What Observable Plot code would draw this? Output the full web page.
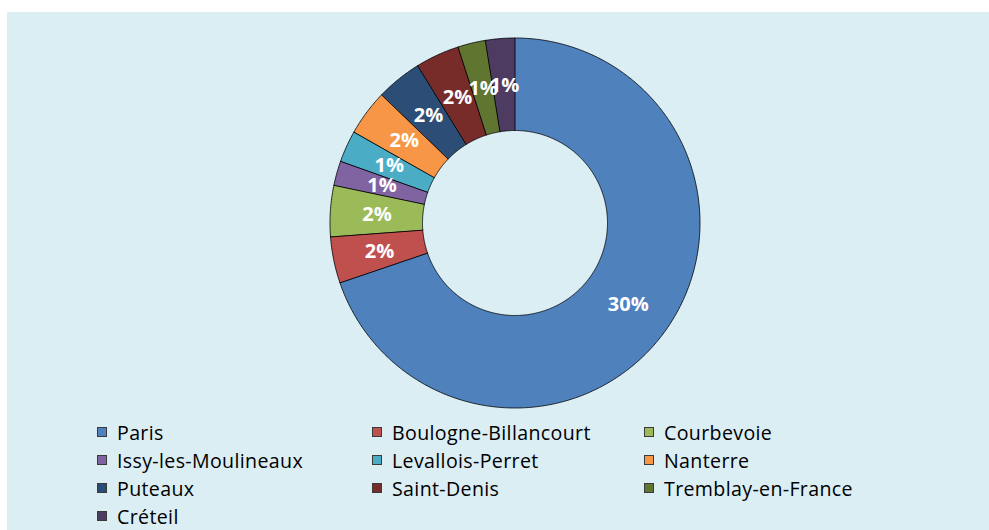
<!DOCTYPE html>
<html>
<head>
<meta charset="utf-8">
<script src="https://cdn.jsdelivr.net/npm/d3@7"></script>
<script src="https://cdn.jsdelivr.net/npm/@observablehq/plot@0.6"></script>
<style>
  html, body { margin: 0; padding: 0; background: #ffffff; }
  #panel {
    position: absolute; left: 7px; top: 12px; width: 982px; height: 518px;
    background: #DBEEF4; overflow: hidden;
  }
  #chart { position: absolute; left: 0; top: 0; }
  #legend {
    position: absolute; left: 90px; top: 406px;
    display: grid; grid-template-columns: 275px 272px 260px;
    font-family: "Open Sans", Lato, sans-serif; font-size: 19.6px;
    letter-spacing: 0.35px; color: #000;
  }
  .item { display: flex; align-items: center; height: 28px; white-space: nowrap; }
  .sw { width: 10px; height: 10px; box-sizing: border-box; border: 1px solid #3a3a3a; margin-right: 10px; flex: none; }
</style>
</head>
<body>
<div id="panel">
  <div id="chart"></div>
  <div id="legend"></div>
</div>
<script>
// Communes and their share (%), clockwise from 12 o'clock
const cities = [
  "Paris", "Boulogne-Billancourt", "Courbevoie", "Issy-les-Moulineaux",
  "Levallois-Perret", "Nanterre", "Puteaux", "Saint-Denis",
  "Tremblay-en-France", "Créteil"
];
const shares = [30.0, 1.74, 1.92, 0.92, 1.19, 1.72, 1.72, 1.65, 1.04, 1.09];
const colors = [
  "#4F81BD", "#C0504D", "#9BBB59", "#8064A2", "#4BACC6",
  "#F79646", "#2C4D75", "#772C2A", "#5F7530", "#4D3B62"
];

// Ring geometry in unit coordinates (outer radius 1, hole 50%)
const R_OUT = 1, R_IN = 0.5, R_LABEL = 0.75;

const total = d3.sum(shares);
let acc = 0;
const slices = cities.map((city, i) => {
  const a0 = acc / total * 2 * Math.PI;
  acc += shares[i];
  const a1 = acc / total * 2 * Math.PI;
  return {city, value: shares[i], a0, a1};
});

// Sample each slice's arc so the area mark can fill the annular sector
const ring = slices.flatMap(s => {
  const n = Math.max(2, Math.ceil((s.a1 - s.a0) / (Math.PI / 360)));
  return d3.range(n + 1).map(k => {
    const t = s.a0 + (s.a1 - s.a0) * k / n;
    return {
      city: s.city,
      xo: R_OUT * Math.sin(t), yo: R_OUT * Math.cos(t),
      xi: R_IN * Math.sin(t), yi: R_IN * Math.cos(t)
    };
  });
});

const labels = slices.map(s => {
  const m = (s.a0 + s.a1) / 2;
  return {x: R_LABEL * Math.sin(m), y: R_LABEL * Math.cos(m), text: Math.round(s.value) + "%"};
});

const chart = Plot.plot({
  width: 982,
  height: 405,
  marginLeft: 323,
  marginRight: 289,
  marginTop: 26,
  marginBottom: 9,
  style: {background: "transparent", overflow: "visible"},
  x: {domain: [-1, 1], axis: null},
  y: {domain: [-1, 1], axis: null},
  color: {domain: cities, range: colors},
  marks: [
    Plot.area(ring, {
      x1: "xo", y1: "yo", x2: "xi", y2: "yi",
      z: "city", fill: "city", stroke: "#000", strokeWidth: 0.8
    }),
    Plot.text(labels, {
      x: "x", y: "y", text: "text",
      fill: "white", fontSize: 20, fontWeight: "bold",
      fontFamily: "'Open Sans', Lato, sans-serif"
    })
  ]
});
document.getElementById("chart").appendChild(chart);

// Legend in three columns, row by row
const legend = document.getElementById("legend");
cities.forEach((c, i) => {
  const item = document.createElement("div");
  item.className = "item";
  const sw = document.createElement("span");
  sw.className = "sw";
  sw.style.background = colors[i];
  const label = document.createElement("span");
  label.textContent = c;
  item.appendChild(sw);
  item.appendChild(label);
  legend.appendChild(item);
});
</script>
</body>
</html>
